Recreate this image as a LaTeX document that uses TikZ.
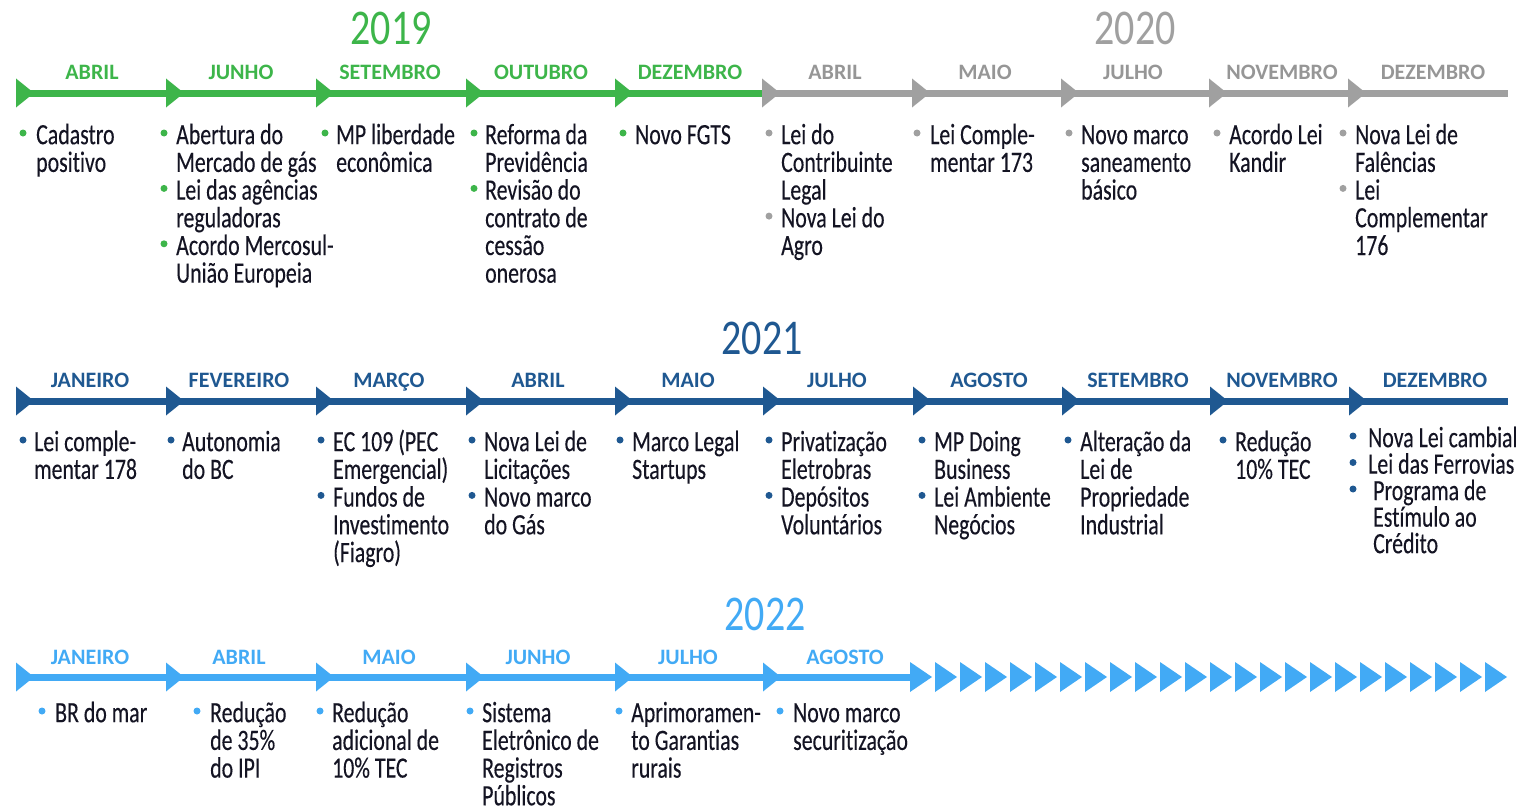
\documentclass[tikz,border=0pt]{standalone}
\usepackage{fontspec}
\setmainfont{Carlito}
\newfontfamily\bodyfont{Carlito}[FakeStretch=0.74,FakeBold=0.25,Ligatures={NoCommon,NoDiscretionary}]
\newfontfamily\yearfont{Carlito}[FakeStretch=0.8]
\definecolor{cgreen}{RGB}{61,181,74}
\definecolor{cgray}{RGB}{160,160,160}
\definecolor{cgraytxt}{RGB}{150,150,150}
\definecolor{cdark}{RGB}{31,88,145}
\definecolor{clight}{RGB}{66,170,245}
\definecolor{ctext}{RGB}{20,20,35}
\newcommand\tightlines{\lineskiplimit=-50pt\lineskip=0pt}
\tikzset{
  seg/.style={line width=7pt},
  dotb/.style={circle, inner sep=0pt, minimum size=7pt},
  itxt/.style={anchor=north west, inner sep=0pt, align=left, text=ctext,
    font=\bodyfont\fontsize{29.5}{27.7}\selectfont\tightlines},
  itxtb/.style={itxt, font=\bodyfont\fontsize{29.5}{26.5}\selectfont\tightlines},
  mon/.style={anchor=base, inner sep=0pt, font=\bfseries\fontsize{22}{24}\selectfont},
  yr/.style={anchor=base, inner sep=0pt, font=\yearfont\fontsize{50}{50}\selectfont},
}
% name, bullet x, text x, baseline, colour, text
\newcommand\itm[6]{%
  \node[dotb,fill=#5] (#1-b) at (#2,#4-11) {};
  \node[itxt] (#1) at (#3,#4-23) {\rule{0pt}{23pt}#6};
}
\newcommand\itmb[6]{%
  \node[dotb,fill=#5] (#1-b) at (#2,#4-11) {};
  \node[itxtb] (#1) at (#3,#4-23) {\rule{0pt}{23pt}#6};
}
\newcommand\tri[2]{\fill[#2] (#1) ++(0,-14.5) -- ++(18,14.5) -- ++(-18,14.5) -- cycle;}
\begin{document}
\begin{tikzpicture}[x=1pt,y=-1pt]
\useasboundingbox (0,0) rectangle (1521,808);
% ---------------- years
\node[yr,text=cgreen] (y2019) at (391,45) {2019};
\node[yr,text=cgray] (y2020) at (1135,45) {2020};
\node[yr,text=cdark] (y2021) at (762,354) {2021};
\node[yr,text=clight] (y2022) at (765,630) {2022};
% ---------------- row 1
\foreach \n/\x in {1/16,2/166,3/316,4/466,5/615,6/762,7/912,8/1061,9/1209,10/1348}
  {\coordinate (r1a\n) at (\x,93);}
\coordinate (r1end) at (1508,93);
\draw[seg,cgreen] (r1a1) -- (r1a6);
\draw[seg,cgray] (r1a6) -- (r1end);
\foreach \n in {1,...,5} {\tri{r1a\n}{cgreen}}
\foreach \n in {6,...,10} {\tri{r1a\n}{cgray}}
\foreach \n/\x/\t in {1/92/ABRIL,2/241/JUNHO,3/390/SETEMBRO,4/541/OUTUBRO,5/690/DEZEMBRO}
  {\node[mon,text=cgreen] (m1-\n) at (\x,80) {\t};}
\foreach \n/\x/\t in {6/835/ABRIL,7/985/MAIO,8/1133/JULHO,9/1282/NOVEMBRO,10/1433/DEZEMBRO}
  {\node[mon,text=cgraytxt] (m1-\n) at (\x,80) {\t};}
\itm{t1a}{23}{36}{144}{cgreen}{Cadastro\\positivo}
\itm{t2a}{164}{176}{144}{cgreen}{Abertura do\\Mercado de gás}
\itm{t2b}{164}{176}{199.4}{cgreen}{Lei das agências\\reguladoras}
\itm{t2c}{164}{176}{254.8}{cgreen}{Acordo Mercosul-\\União Europeia}
\itm{t3a}{325}{336}{144}{cgreen}{MP liberdade\\econômica}
\itm{t4a}{474}{485}{144}{cgreen}{Reforma da\\Previdência}
\itm{t4b}{474}{485}{199.4}{cgreen}{Revisão do\\contrato de\\cessão\\onerosa}
\itm{t5a}{623}{635}{144}{cgreen}{Novo FGTS}
\itm{t6a}{769}{781}{144}{cgray}{Lei do\\Contribuinte\\Legal}
\itm{t6b}{769}{781}{227.1}{cgray}{Nova Lei do\\Agro}
\itm{t7a}{917}{930}{144}{cgray}{Lei Comple-\\mentar 173}
\itm{t8a}{1069}{1081}{144}{cgray}{Novo marco\\saneamento\\básico}
\itm{t9a}{1217}{1229}{144}{cgray}{Acordo Lei\\Kandir}
\itm{t10a}{1343}{1355}{144}{cgray}{Nova Lei de\\Falências}
\itm{t10b}{1343}{1355}{199.4}{cgray}{Lei\\Complementar\\176}
% ---------------- row 2
\foreach \n/\x in {1/16,2/166,3/316,4/466,5/615,6/763,7/913,8/1062,9/1210,10/1349}
  {\coordinate (r2a\n) at (\x,401);}
\coordinate (r2end) at (1508,401);
\draw[seg,cdark] (r2a1) -- (r2end);
\foreach \n in {1,...,10} {\tri{r2a\n}{cdark}}
\foreach \n/\x/\t in {1/90/JANEIRO,2/239/FEVEREIRO,3/389/MARÇO,4/538/ABRIL,5/688/MAIO,6/837/JULHO,7/989/AGOSTO,8/1138/SETEMBRO,9/1282/NOVEMBRO,10/1435/DEZEMBRO}
  {\node[mon,text=cdark] (m2-\n) at (\x,387) {\t};}
\itm{u1a}{23}{34}{451}{cdark}{Lei comple-\\mentar 178}
\itm{u2a}{171}{182}{451}{cdark}{Autonomia\\do BC}
\itm{u3a}{321}{333}{451}{cdark}{EC 109 (PEC\\Emergencial)}
\itm{u3b}{321}{333}{506.4}{cdark}{Fundos de\\Investimento\\(Fiagro)}
\itm{u4a}{472}{484}{451}{cdark}{Nova Lei de\\Licitações}
\itm{u4b}{472}{484}{506.4}{cdark}{Novo marco\\do Gás}
\itm{u5a}{620}{632}{451}{cdark}{Marco Legal\\Startups}
\itm{u6a}{769}{781}{451}{cdark}{Privatização\\Eletrobras}
\itm{u6b}{769}{781}{506.4}{cdark}{Depósitos\\Voluntários}
\itm{u7a}{922}{934}{451}{cdark}{MP Doing\\Business}
\itm{u7b}{922}{934}{506.4}{cdark}{Lei Ambiente\\Negócios}
\itm{u8a}{1068}{1080}{451}{cdark}{Alteração da\\Lei de\\Propriedade\\Industrial}
\itm{u9a}{1223}{1235}{451}{cdark}{Redução\\10\% TEC}
\itmb{u10a}{1353}{1368}{447}{cdark}{Nova Lei cambial}
\itmb{u10b}{1353}{1368}{473.5}{cdark}{Lei das Ferrovias}
\itmb{u10c}{1353}{1373}{500}{cdark}{Programa de\\Estímulo ao\\Crédito}
% ---------------- row 3
\foreach \n/\x in {1/16,2/166,3/316,4/466,5/615,6/763}
  {\coordinate (r3a\n) at (\x,677);}
\foreach \k in {0,...,23} {\coordinate (ch\k) at (910+25*\k,677);}
\draw[seg,clight] (r3a1) -- (ch0);
\foreach \n in {1,...,6} {\tri{r3a\n}{clight}}
\foreach \k in {0,...,23} {\fill[clight] (ch\k) ++(0,-15) -- ++(22,15) -- ++(-22,15) -- cycle;}
\foreach \n/\x/\t in {1/90/JANEIRO,2/239/ABRIL,3/389/MAIO,4/538/JUNHO,5/688/JULHO,6/845/AGOSTO}
  {\node[mon,text=clight] (m3-\n) at (\x,664) {\t};}
\itm{v1a}{42}{55}{722}{clight}{BR do mar}
\itm{v2a}{197}{210}{722}{clight}{Redução\\de 35\%\\do IPI}
\itm{v3a}{320}{332}{722}{clight}{Redução\\adicional de\\10\% TEC}
\itm{v4a}{470}{482}{722}{clight}{Sistema\\Eletrônico de\\Registros\\Públicos}
\itm{v5a}{619}{631}{722}{clight}{Aprimoramen-\\to Garantias\\rurais}
\itm{v6a}{780}{793}{722}{clight}{Novo marco\\securitização}
\end{tikzpicture}
\end{document}
